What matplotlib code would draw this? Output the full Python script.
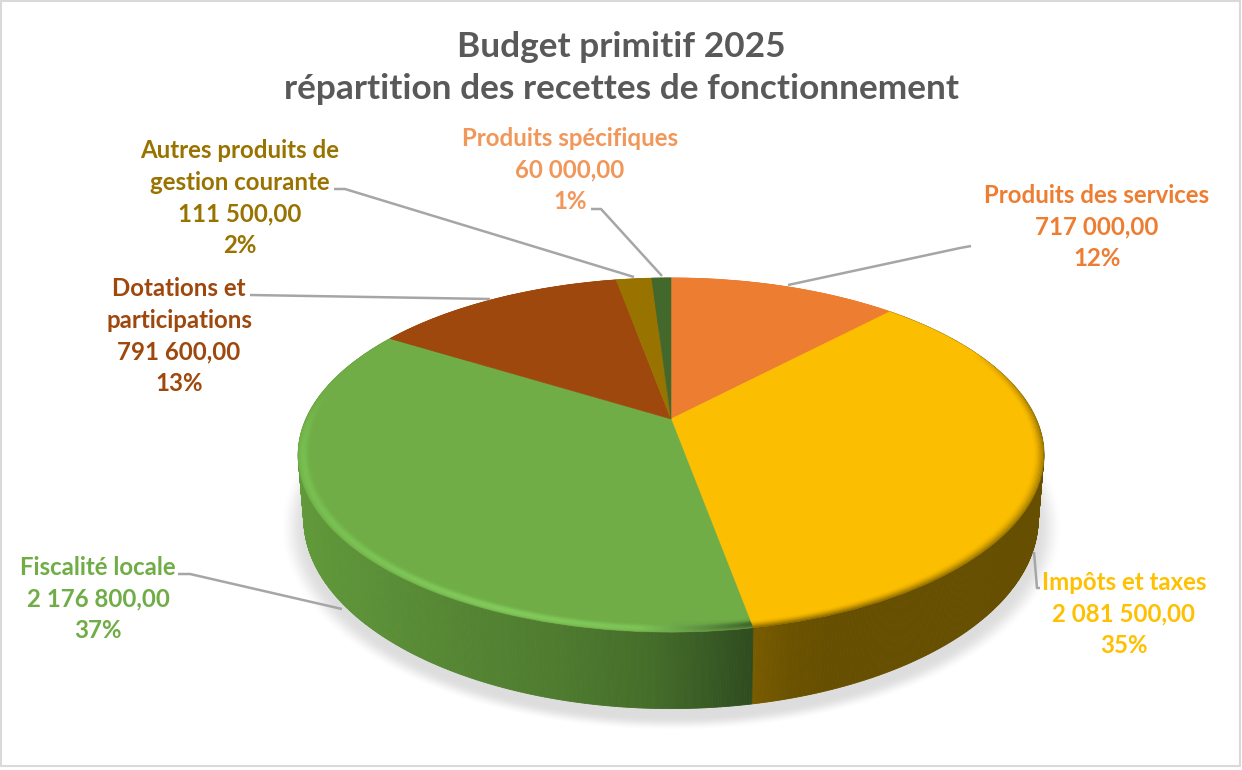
import numpy as np
import matplotlib
matplotlib.use("Agg")
import matplotlib.pyplot as plt
from matplotlib.transforms import Transform
from matplotlib.collections import PolyCollection, LineCollection
from matplotlib.colors import to_rgb
from matplotlib.patches import Rectangle

plt.rcParams['font.family'] = ['Lato', 'DejaVu Sans']

title = "Budget primitif 2025\nrépartition des recettes de fonctionnement"
categories = ["Produits des services", "Impôts et taxes", "Fiscalité locale",
              "Dotations et\nparticipations", "Autres produits de\ngestion courante",
              "Produits spécifiques"]
values = [717000, 2081500, 2176800, 791600, 111500, 60000]
slice_colors = ["#ED7D31", "#FCBE00", "#70AD47", "#9E480E", "#997300", "#43682B"]
label_colors = ["#ED7D31", "#FFC000", "#70AD47", "#9E480E", "#997300", "#F1975A"]

# layout of labels: centre x, centre y (pixels)
label_pos = [(1097, 227), (1124, 614), (98, 599), (179, 336), (240, 198), (570, 170)]
leaders = [
    [(788, 285), (960, 248), (971, 246)],
    [(1034, 552), (1037, 588), (1040, 588)],
    [(342, 609), (190, 574), (178, 574)],
    [(490, 299), (250, 295)],
    [(634, 277), (345, 189), (334, 189)],
    [(662, 276), (601, 209), (591, 209)],
]

# perspective of the disc
CX, CY, AX, BY, P = 671.0, 419.0, 365.0, 169.7, 0.2034
DROP, XS = 61.0, 0.985


class DiscProjection(Transform):
    input_dims = output_dims = 2
    is_affine = False
    has_inverse = False

    def transform_non_affine(self, values):
        xy = np.asarray(values, float)
        d = 1 + P * xy[:, 1]
        return np.c_[CX + AX * xy[:, 0] / d, CY - BY * xy[:, 1] / d]


def top_pts(th, r=1.0):
    X, Y = r * np.sin(th), r * np.cos(th)
    d = 1 + P * Y
    return np.c_[CX + AX * X / d, CY - BY * Y / d]


def low_pts(th):
    X, Y = np.sin(th), np.cos(th)
    d = 1 + P * Y
    return np.c_[CX + XS * AX * X / d, CY + (DROP - BY * Y) / d]


def ramp(x, stops):
    xs = [s[0] for s in stops]
    rgb = np.array([to_rgb(s[1]) for s in stops])
    return np.c_[[np.interp(x, xs, rgb[:, i]) for i in range(3)]].T


fig = plt.figure(figsize=(12.42, 7.70), dpi=100, facecolor="white")
ax = fig.add_axes([0, 0, 1, 1])

wedges, _ = ax.pie(values, colors=slice_colors, startangle=90, counterclock=False)
proj = DiscProjection() + ax.transData
for w, col in zip(wedges, slice_colors):
    w.set_transform(proj)
    w.set_edgecolor(col)
    w.set_linewidth(0.4)
    w.set_zorder(3)

# soft shadow
gx, gy = np.meshgrid(np.arange(0, 1242), np.arange(0, 770))
dist = np.sqrt(((gx - 671) / 366.0) ** 2 + ((gy - 527) / 190.0) ** 2)
sh = np.clip((1.07 - dist) / 0.07, 0, 1)
sh = sh * sh * (3 - 2 * sh) * 0.20
img = np.zeros(gx.shape + (4,))
img[..., :3] = 0.35
img[..., 3] = sh
ax.imshow(img, extent=(0, 1242, 770, 0), aspect="auto", zorder=1, interpolation="bilinear")

# side wall, per slice
side_stops = {
    "#FCBE00": [(745, "#7D5E00"), (790, "#6A5200"), (830, "#664F00"), (1050, "#664F00")],
    "#70AD47": [(295, "#619A3B"), (420, "#588A35"), (560, "#4E7B2F"), (650, "#456D2A"),
                (710, "#385A24"), (750, "#2F4C20")],
}
edges = np.r_[0, np.cumsum(values)] / sum(values) * 2 * np.pi
for i, col in enumerate(slice_colors):
    th = np.linspace(edges[i], edges[i + 1], max(2, int(np.degrees(edges[i + 1] - edges[i]) * 3)))
    polys = []
    up, lo = top_pts(th), low_pts(th)
    for j in range(len(th) - 1):
        polys.append(np.array([up[j], up[j + 1], lo[j + 1], lo[j]]))
    xm = np.array([p[:, 0].mean() for p in polys])
    stops = side_stops.get(col, [(0, col), (1242, col)])
    pc = PolyCollection(polys, facecolors=ramp(xm, stops), edgecolors="face", linewidths=0.6, zorder=2)
    ax.add_collection(pc)


def bevel(t0, t1, r, lw, stops, fade, alpha=1.0):
    th = np.radians(np.linspace(t0, t1, 400))
    pts = top_pts(th, r)
    segs = np.stack([pts[:-1], pts[1:]], axis=1)
    rgb = ramp(segs[:, :, 0].mean(axis=1), stops)
    a = np.interp(np.degrees(th[:-1]), fade[0], fade[1]) * alpha
    ax.add_collection(LineCollection(segs, colors=np.c_[rgb, a], linewidths=lw,
                                     capstyle="butt", zorder=4))


deg = np.degrees(edges)
green_hi = [(295, "#7CC655"), (500, "#86D05F"), (640, "#80C859"), (700, "#5F9044"), (752, "#3A5C28")]
green_fade = ([deg[2], 190, 258, 280], [1, 1, 1, 0])
yfade = ([65, 95, deg[2]], [0, 1, 1])
for r in np.linspace(0.962, 1.0, 14):
    g = np.exp(-((r - 0.987) / 0.011) ** 2)
    bevel(deg[2], deg[3] - 20, r, 1.1, green_hi, green_fade, alpha=0.75 * g)
    d = np.clip((r - 0.972) / 0.028, 0, 1) ** 2
    bevel(60, deg[2], r, 1.1, [(700, "#664F00"), (1050, "#664F00")], yfade, alpha=0.55 * d)

# leaders
for pts in leaders:
    p = np.array(pts)
    ax.plot(p[:, 0], p[:, 1], color="#A6A6A6", lw=1.8, zorder=5, solid_capstyle="butt")

# labels
total = sum(values)
for cat, v, col, (x, y) in zip(categories, values, label_colors, label_pos):
    amount = f"{v:,.2f}".replace(",", " ").replace(".", ",")
    ax.text(x, y, f"{cat}\n{amount}\n{round(100 * v / total)}%", color=col, ha="center",
            va="center", multialignment="center", fontsize=17.3, fontweight="bold",
            linespacing=1.44, zorder=6)

ax.text(621, 68, title, color="#595959", ha="center", va="center", multialignment="center",
        fontsize=25.4, fontweight="bold", linespacing=1.38, zorder=6)

ax.add_patch(Rectangle((1, 1), 1239, 765, fill=False, ec="#D9D9D9", lw=1.5, zorder=7))
ax.set_aspect("auto")
ax.set_xlim(0, 1242)
ax.set_ylim(770, 0)
ax.axis("off")
fig.savefig("out.png", dpi=100)
